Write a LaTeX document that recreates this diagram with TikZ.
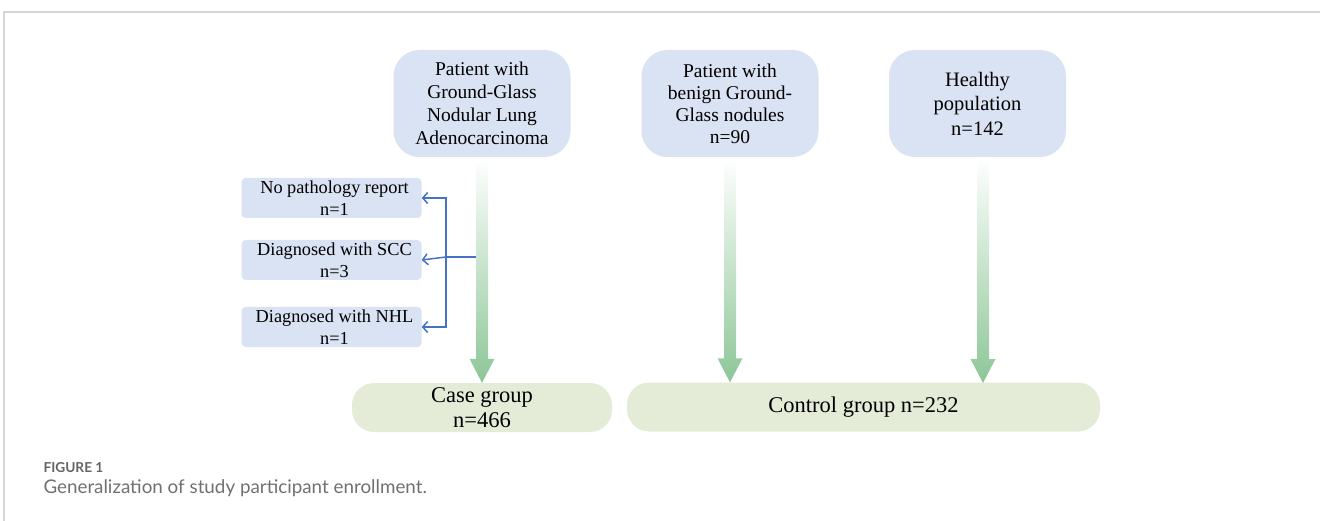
\documentclass[tikz,border=0pt]{standalone}
\usepackage{fontspec}
\setmainfont{Liberation Serif}
\newfontfamily\capfont{Lato}
\usetikzlibrary{arrows.meta, calc}

\definecolor{boxblue}{RGB}{218,227,243}
\definecolor{boxgreen}{RGB}{228,236,216}
\definecolor{arrowgreen}{RGB}{140,198,150}
\definecolor{linkblue}{RGB}{68,114,196}
\definecolor{framegray}{RGB}{214,214,214}
\definecolor{capgray}{RGB}{112,112,112}

% wide green arrow, shaded from the top box down to the group box
\newcommand{\flowarrow}[2]{%
	\shade [top color=white, bottom color=arrowgreen]
		($(#1)+(-6,0)$) -- ($(#2)+(-6,-24)$) -- ($(#2)+(-12.5,-24)$) -- (#2)
		-- ($(#2)+(12.5,-24)$) -- ($(#2)+(6,-24)$) -- ($(#1)+(6,0)$) -- cycle;
}

\begin{document}
\begin{tikzpicture}[x=1pt, y=-1pt,
	source/.style={fill=boxblue, rounded corners=26pt, align=center, inner sep=0pt,
		minimum width=177pt, minimum height=107pt},
	excluded/.style={fill=boxblue, rounded corners=4pt, align=center, inner sep=0pt,
		minimum width=180pt, minimum height=40pt,
		font=\fontsize{18.3}{21.5}\selectfont},
	group/.style={fill=boxgreen, rounded corners=22pt, align=center, inner sep=0pt,
		minimum height=49pt, font=\fontsize{22.5}{25}\selectfont},
	link/.style={draw=linkblue, line width=1.5pt},
	linkarrow/.style={link, -{Straight Barb[length=5pt, width=11pt, line width=1.5pt]}}]
	\useasboundingbox (0,0) rectangle (1320,521);

	\draw [framegray, line width=1.5pt] (4,521) -- (4,12) -- (1320,12);

	\node [source, font=\fontsize{19.5}{22.8}\selectfont] (adeno) at (482,103.5)
		{Patient with\\Ground-Glass\\Nodular Lung\\Adenocarcinoma};
	\node [source, font=\fontsize{19.5}{22}\selectfont] (benign) at (730,103.5)
		{Patient with\\benign Ground-\\Glass nodules\\n=90};
	\node [source, font=\fontsize{20.5}{24.5}\selectfont] (healthy) at (977.5,103.5)
		{Healthy\\population\\n=142};

	\node [excluded] (nopath) at (331.5,198) {\hspace{6pt}No pathology report\\\hspace{6pt}n=1};
	\node [excluded] (scc) at (331.5,260) {\hspace{6pt}Diagnosed with SCC\\\hspace{6pt}n=3};
	\node [excluded] (nhl) at (331.5,327) {\hspace{6pt}Diagnosed with NHL\\\hspace{6pt}n=1};

	\node [group, minimum width=260pt] (case) at (482,407.5) {Case group\\n=466};
	\node [group, minimum width=473pt] (control) at (863.5,407) {Control group n=232};

	\flowarrow{adeno.south}{case.north}
	\flowarrow{benign.south}{benign.south |- control.north}
	\flowarrow{983,157}{983,383}

	\coordinate (split) at (476,257);
	\coordinate (trunk) at (446,257);
	\draw [link] (split) -- (trunk);
	\draw [linkarrow] (trunk) -- (scc.east);
	\draw [linkarrow] (trunk) |- (nopath.east);
	\draw [linkarrow] (trunk) |- (nhl.east);

	\node [anchor=base west, text=capgray!90!black, font=\capfont\bfseries\fontsize{13.7}{15}\selectfont]
		(fig) at (40,472) {FIGURE 1};
	\node [anchor=base west, text=capgray, font=\capfont\fontsize{18.8}{22}\selectfont]
		(caption) at (40,493) {Generalization of study participant enrollment.};
\end{tikzpicture}
\end{document}
